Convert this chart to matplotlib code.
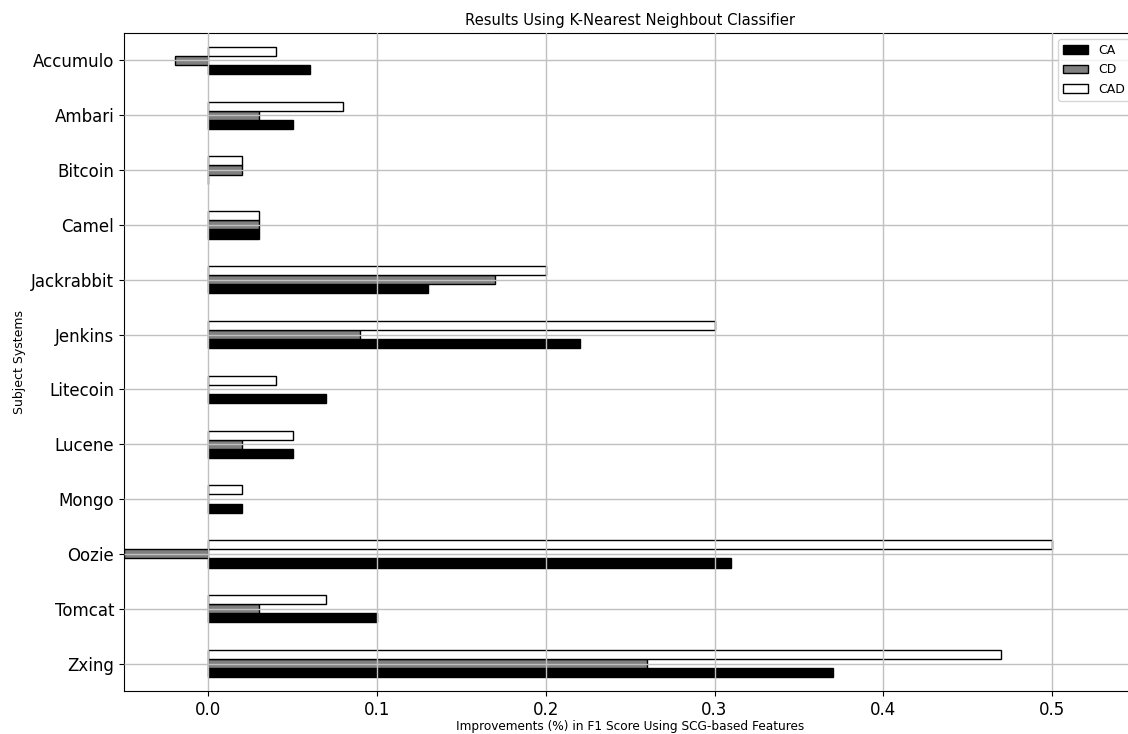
import numpy as np
import matplotlib
matplotlib.use("Agg")
import matplotlib.pyplot as plt

systems = ['Accumulo', 'Ambari', 'Bitcoin', 'Camel', 'Jackrabbit', 'Jenkins',
           'Litecoin', 'Lucene', 'Mongo', 'Oozie', 'Tomcat', 'Zxing']
ca = [0.06, 0.05, 0.0, 0.03, 0.13, 0.22, 0.07, 0.05, 0.02, 0.31, 0.10, 0.37]
cd = [-0.02, 0.03, 0.02, 0.03, 0.17, 0.09, 0.0, 0.02, 0.0, -0.05, 0.03, 0.26]
cad = [0.04, 0.08, 0.02, 0.03, 0.20, 0.30, 0.04, 0.05, 0.02, 0.50, 0.07, 0.47]
series = ['CA', 'CD', 'CAD']
colors = ['black', 'gray', 'white']

fig = plt.figure(figsize=(11.28, 7.34), dpi=100)
ax = fig.add_axes([0.1099, 0.0586, 0.8975, 0.8965])

n = len(systems)
pos = np.arange(n)[::-1]          # first system at the top
h = 0.5 / 3
for k, vals in enumerate([ca, cd, cad]):
    ax.barh(pos + (k - 1) * h, vals, height=h, color=colors[k],
            edgecolor='black', linewidth=1, label=series[k], zorder=1)

ax.set_yticks(pos)
ax.set_yticklabels(systems, fontsize=12)
ax.tick_params(axis='x', labelsize=12)
ax.set_ylim(-0.5, n - 0.5)
ax.set_xlim(-0.05, 0.55)
ax.grid(True, color='#c0c0c0', linewidth=1, zorder=3)
ax.set_axisbelow(False)

ax.set_title("Results Using K-Nearest Neighbout Classifier", fontsize=10.6)
ax.set_xlabel("Improvements (%) in F1 Score Using SCG-based Features",
              fontsize=8.7, labelpad=1)
ax.set_ylabel("Subject Systems", fontsize=9)
ax.legend(loc='upper right', fontsize=9, fancybox=True)

plt.savefig('out.png', dpi=100)
